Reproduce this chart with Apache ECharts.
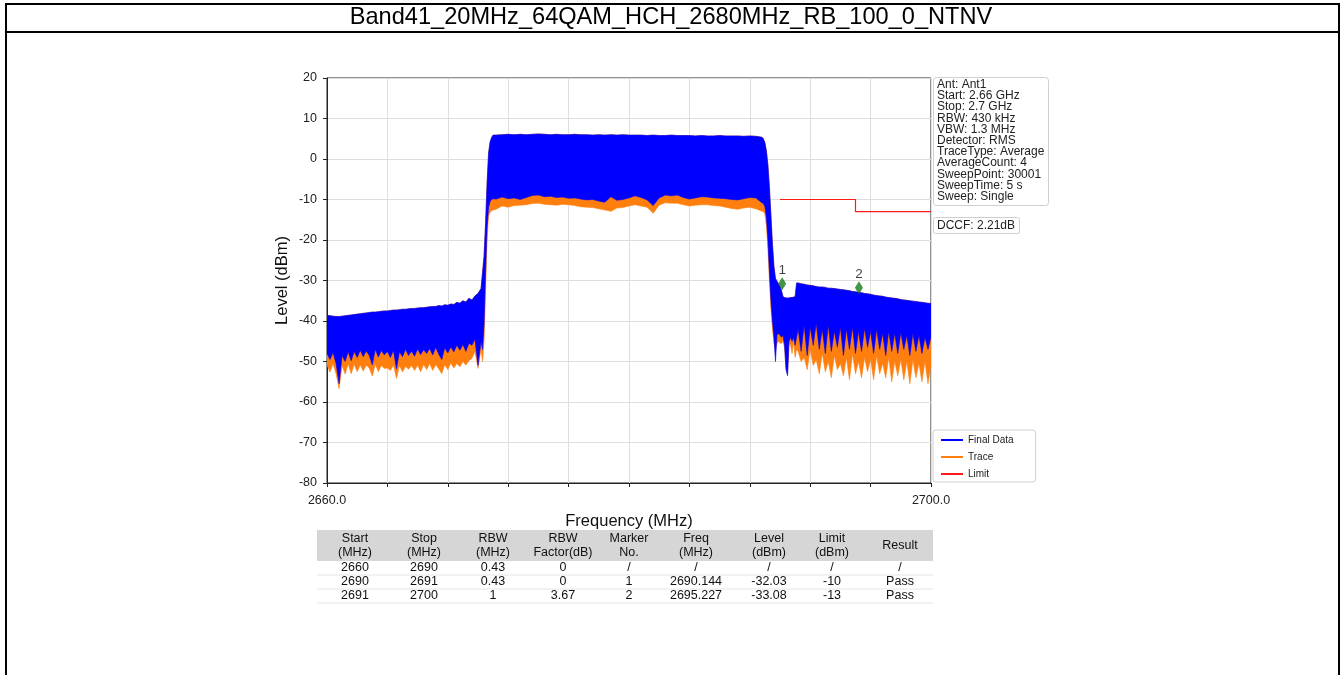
<!DOCTYPE html>
<html><head><meta charset="utf-8">
<script src="https://cdn.jsdelivr.net/npm/echarts@6/dist/echarts.min.js"></script>
<style>html,body{margin:0;padding:0;background:#fff;}#c{width:1344px;height:675px;}</style>
</head><body><div id="c"></div>
<script>
const titleText = 'Band41_20MHz_64QAM_HCH_2680MHz_RB_100_0_NTNV';

const freq = [
  2660.0,2660.2,2660.4,2660.6,2660.8,2661.0,2661.2,2661.4,2661.6,2661.8,
  2662.0,2662.2,2662.4,2662.6,2662.8,2663.0,2663.2,2663.4,2663.6,2663.8,
  2664.0,2664.2,2664.4,2664.6,2664.8,2665.0,2665.2,2665.4,2665.6,2665.8,
  2666.0,2666.2,2666.4,2666.6,2666.8,2667.0,2667.2,2667.4,2667.6,2667.8,
  2668.0,2668.2,2668.4,2668.6,2668.8,2669.0,2669.2,2669.4,2669.6,2669.8,
  2670.0,2670.2,
  2670.3,2670.4,2670.5,2670.6,2670.7,2670.8,2670.9,2671.0,
  2671.2,2671.6,2672.0,2672.4,2672.8,2673.2,2673.6,2674.0,2674.4,2674.8,
  2675.2,2675.6,2676.0,2676.4,2676.8,2677.2,2677.6,2678.0,2678.4,2678.8,
  2679.2,2679.6,2680.0,2680.4,2680.8,2681.2,2681.6,2682.0,2682.4,2682.8,
  2683.2,2683.6,2684.0,2684.4,2684.8,2685.2,2685.6,2686.0,2686.4,2686.8,
  2687.2,2687.6,2688.0,2688.4,2688.8,
  2688.9,2689.0,2689.1,2689.2,2689.3,2689.4,2689.5,2689.6,2689.7,2689.8,
  2689.9,2690.0,2690.1,2690.2,2690.3,2690.4,2690.5,2690.6,2690.7,2690.8,
  2690.9,2691.0,2691.1,
  2691.2,2691.4,2691.6,2691.8,2692.0,2692.2,2692.4,2692.6,2692.8,2693.0,
  2693.2,2693.4,2693.6,2693.8,2694.0,2694.2,2694.4,2694.6,2694.8,2695.0,
  2695.2,2695.4,2695.6,2695.8,2696.0,2696.2,2696.4,2696.6,2696.8,2697.0,
  2697.2,2697.4,2697.6,2697.8,2698.0,2698.2,2698.4,2698.6,2698.8,2699.0,
  2699.2,2699.4,2699.6,2699.8,2700.0
];

// Final Data: upper envelope (dBm)
const finalTop = [
  -38.6,-38.7,-38.8,-38.9,-38.9,-38.8,-38.7,-38.6,-38.5,-38.4,
  -38.3,-38.2,-38.1,-38.0,-37.9,-37.8,-37.8,-37.7,-37.6,-37.5,
  -37.5,-37.4,-37.3,-37.3,-37.2,-37.1,-37.1,-37.0,-36.9,-36.9,
  -36.8,-36.7,-36.7,-36.6,-36.5,-36.4,-36.4,-36.2,-36.3,-36.0,
  -36.1,-35.8,-35.9,-35.4,-35.6,-35.0,-35.3,-34.4,-34.8,-33.8,
  -33.2,-32.0,
  -28,-24,-16,-6,1.5,4.2,5.3,5.9,
  5.9,6.0,6.1,6.0,6.1,6.0,6.1,6.2,6.1,6.0,
  6.1,6.0,6.0,6.1,6.0,6.0,5.9,6.0,5.9,6.0,
  5.9,6.0,5.9,5.9,5.9,5.8,5.9,5.8,5.8,5.9,
  5.8,5.8,5.8,5.7,5.8,5.7,5.7,5.8,5.7,5.7,
  5.7,5.6,5.7,5.6,5.4,
  5.0,4.0,2.0,-1.5,-7,-14,-21,-26.5,-29.5,-30.2,
  -30.8,-31.5,-32.5,-34.0,-34.2,-34.3,-34.3,-34.3,-34.2,-34.2,
  -34.1,-34.0,-30.6,
  -30.6,-30.8,-30.9,-31.1,-31.2,-31.3,-31.5,-31.6,-31.6,-31.7,
  -31.9,-31.9,-32.0,-32.1,-32.2,-32.3,-32.4,-32.5,-32.7,-32.8,
  -32.9,-33.0,-33.2,-33.3,-33.4,-33.6,-33.7,-33.8,-33.9,-34.1,
  -34.2,-34.3,-34.4,-34.5,-34.7,-34.8,-34.9,-35.0,-35.1,-35.2,
  -35.3,-35.4,-35.5,-35.6,-35.7
];

// Final Data: lower envelope (dBm)
const finalLow = [
  -48.0,-49.5,-47.8,-50.5,-55.5,-48.5,-50.0,-47.6,-49.8,-47.5,
  -49.0,-47.2,-48.8,-47.4,-48.5,-50.8,-47.0,-48.9,-47.3,-48.4,
  -47.5,-49.0,-47.2,-51.8,-47.6,-48.8,-47.0,-48.5,-47.4,-48.7,
  -46.9,-48.3,-47.1,-48.0,-46.8,-48.4,-46.5,-48.2,-49.5,-46.6,
  -47.9,-46.4,-47.6,-46.0,-47.2,-45.8,-47.5,-45.5,-46.0,-44.5,
  -51.0,-45.0,
  -47,-41,-28,-17,-12,-10.5,-10.0,-9.8,
  -9.9,-9.4,-9.8,-9.6,-10.0,-9.5,-9.0,-8.9,-9.3,-9.2,
  -9.5,-9.4,-9.7,-9.6,-9.9,-10.1,-10.0,-10.4,-10.7,-9.3,
  -10.2,-10.0,-9.6,-9.1,-9.5,-10.1,-11.5,-9.6,-8.9,-9.1,
  -8.9,-9.5,-9.9,-9.6,-9.3,-9.4,-9.6,-9.7,-9.8,-10.0,
  -10.1,-9.8,-9.5,-9.6,-10.8,
  -11.0,-11.8,-14.5,-20,-28,-35,-40,-44,-50,-43.5,
  -43,-43.5,-44,-43.5,-46,-52,-53.5,-45,-44,-45,
  -44,-46,-44,
  -42.0,-47.5,-41.0,-48.5,-41.5,-46.0,-40.5,-47.0,-42.0,-48.0,
  -41.0,-47.5,-42.5,-46.5,-41.5,-48.5,-42.0,-47.0,-41.5,-48.0,
  -42.5,-47.5,-41.8,-46.5,-42.5,-48.0,-42.0,-47.0,-43.0,-48.5,
  -42.5,-47.5,-43.0,-48.0,-42.8,-47.0,-43.5,-48.5,-43.0,-47.5,
  -43.5,-48.0,-44.0,-47.0,-44.0
];

// Trace: lower envelope (dBm)
const traceLow = [
  -50.9,-52.6,-50.5,-53.0,-56.7,-51.0,-53.1,-50.6,-53.0,-50.7,
  -52.5,-50.8,-52.4,-50.9,-51.6,-53.6,-50.7,-52.5,-51.0,-51.7,
  -51.6,-52.2,-50.8,-54.2,-51.0,-52.6,-51.2,-51.9,-51.0,-52.2,
  -50.9,-52.5,-50.7,-52.0,-50.5,-52.2,-50.8,-51.8,-53.0,-50.8,
  -52.0,-50.4,-51.6,-50.5,-51.3,-50.0,-50.9,-49.8,-49.2,-47.5,
  -51.7,-47.0,
  -50,-45,-33,-20,-14,-13.2,-12.8,-12.6,
  -12.4,-11.6,-11.9,-11.5,-11.4,-11.3,-11.0,-10.9,-11.2,-11.3,
  -11.4,-11.2,-11.3,-11.5,-11.8,-11.9,-12.0,-12.3,-12.6,-12.9,
  -12.1,-12.0,-11.6,-11.3,-11.6,-11.9,-13.4,-11.4,-10.8,-10.9,
  -10.9,-11.3,-11.6,-11.4,-11.3,-11.3,-11.5,-11.6,-11.9,-12.2,
  -12.4,-12.1,-11.9,-12.3,-12.9,
  -13.0,-13.6,-16.5,-22,-30,-37,-42,-45.5,-47,-45.5,
  -45,-45.5,-45.5,-45,-46.5,-52,-53,-45.5,-46,-48,
  -45,-49,-47,
  -47.5,-50.0,-49.0,-52.0,-47.0,-51.0,-49.5,-53.0,-48.0,-52.5,
  -50.0,-54.0,-48.5,-52.0,-50.5,-53.5,-49.0,-54.5,-48.0,-53.0,
  -50.0,-54.0,-49.0,-52.5,-49.5,-54.5,-48.5,-53.0,-50.5,-54.0,
  -49.0,-55.0,-50.0,-53.5,-49.5,-54.5,-50.0,-55.5,-49.5,-54.0,
  -50.5,-55.0,-50.0,-55.5,-51.0
];

const limitFreq = [2690, 2695, 2695, 2700];
const limitLevel = [-10, -10, -13, -13];

const markerNo = ['1', '2'];
const markerFreq = [2690.144, 2695.227];
const markerLevel = [-30.8, -31.8];

const infoLines = ['Ant: Ant1','Start: 2.66 GHz','Stop: 2.7 GHz','RBW: 430 kHz','VBW: 1.3 MHz','Detector: RMS','TraceType: Average','AverageCount: 4','SweepPoint: 30001','SweepTime: 5 s','Sweep: Single'];
const dccfText = 'DCCF: 2.21dB';

const tableHeader = ['Start\n(MHz)','Stop\n(MHz)','RBW\n(MHz)','RBW\nFactor(dB)','Marker\nNo.','Freq\n(MHz)','Level\n(dBm)','Limit\n(dBm)','Result'];
const tableRows = [
  ['2660','2690','0.43','0','/','/','/','/','/'],
  ['2690','2691','0.43','0','1','2690.144','-32.03','-10','Pass'],
  ['2691','2700','1','3.67','2','2695.227','-33.08','-13','Pass']
];
const xAxisName = 'Frequency (MHz)';
const yAxisName = 'Level (dBm)';
const legendNames = ['Final Data','Trace','Limit'];

// ---------- layout / style ----------
const FONT = '"Liberation Sans", Arial, sans-serif';
const colX = [355, 424, 493, 563, 629, 696, 769, 832, 900];
const BLUE = '#0000ff', ORANGE = '#ff7f0e', RED = '#ff1a1a', GREEN = '#157a15';

const chart = echarts.init(document.getElementById('c'), null, {renderer: 'canvas'});

const graphics = [];
graphics.push({type:'rect', shape:{x:6, y:4, width:1333, height:720}, style:{fill:'none', stroke:'#000', lineWidth:2}, silent:true, z:50});
graphics.push({type:'line', shape:{x1:6, y1:32, x2:1339, y2:32}, style:{stroke:'#000', lineWidth:2}, silent:true, z:50});
graphics.push({type:'text', x:671, y:17, style:{text:titleText, font:'23.6px ' + FONT, align:'center', verticalAlign:'middle', fill:'#000'}, z:50});
graphics.push({type:'rect', shape:{x:933.5, y:77.5, width:115, height:128, r:3}, style:{fill:'#fff', stroke:'#cfcfcf', lineWidth:1}, z:40});
graphics.push({type:'text', x:937, y:79, style:{text:infoLines.join('\n'), font:'12px ' + FONT, lineHeight:11.2, fill:'#222', align:'left', verticalAlign:'top'}, z:41});
graphics.push({type:'rect', shape:{x:933.5, y:217.5, width:86, height:16, r:2}, style:{fill:'#fff', stroke:'#cfcfcf', lineWidth:1}, z:40});
graphics.push({type:'text', x:937, y:225.5, style:{text:dccfText, font:'12px ' + FONT, fill:'#222', align:'left', verticalAlign:'middle'}, z:41});
graphics.push({type:'rect', shape:{x:317, y:530, width:616, height:31}, style:{fill:'#d6d6d6'}, z:10});
tableHeader.forEach((h, i) => {
  graphics.push({type:'text', x:colX[i], y:545.5, style:{text:h, font:'12.5px ' + FONT, lineHeight:14, fill:'#111', align:'center', verticalAlign:'middle'}, z:11});
});
tableRows.forEach((row, r) => {
  const cy = 568 + r * 14;
  row.forEach((v, i) => {
    graphics.push({type:'text', x:colX[i], y:cy, style:{text:v, font:'12.5px ' + FONT, fill:'#111', align:'center', verticalAlign:'middle'}, z:11});
  });
  graphics.push({type:'line', shape:{x1:317, y1:cy + 7, x2:933, y2:cy + 7}, style:{stroke:'#e6e6e6', lineWidth:1}, z:9});
});

// band polygon between an upper and a lower envelope, through the axis scales
function bandSeries(name, upper, lower, color, z) {
  return {
    name: name, type: 'custom', coordinateSystem: 'cartesian2d', z: z, clip: true,
    itemStyle: {color: color},
    data: [[freq[0], upper[0]]],
    encode: {x: 0, y: 1},
    renderItem: function (params, api) {
      const topPts = freq.map((f, i) => api.coord([f, upper[i]]));
      const lowPts = freq.map((f, i) => api.coord([f, lower[i]])).reverse();
      return {type: 'polygon', shape: {points: topPts.concat(lowPts)},
        style: {fill: color, stroke: color, lineWidth: 0.6}};
    }
  };
}

chart.setOption({
  animation: false,
  backgroundColor: '#fff',
  grid: {left: 327, right: 413, top: 78, bottom: 192, show: true, borderColor: '#222', borderWidth: 1, backgroundColor: 'transparent'},
  legend: {
    data: legendNames, orient: 'vertical', left: 933, top: 430, icon: 'rect', itemWidth: 22, itemHeight: 2,
    itemGap: 7, padding: [5, 22, 3, 8], borderColor: '#d0d0d0', borderWidth: 1, borderRadius: 3, backgroundColor: '#fff',
    selectedMode: false, textStyle: {fontSize: 10, fontFamily: FONT, color: '#222'}
  },
  xAxis: {
    type: 'value', min: 2660, max: 2700, interval: 4,
    name: xAxisName, nameLocation: 'middle', nameGap: 30,
    nameTextStyle: {fontSize: 16.5, fontFamily: FONT, color: '#111'},
    axisLine: {show: true, onZero: false, lineStyle: {color: '#222'}},
    axisTick: {show: true, length: 4, lineStyle: {color: '#222'}},
    axisLabel: {fontSize: 12.5, fontFamily: FONT, color: '#222', margin: 11, showMinLabel: true, showMaxLabel: true,
      formatter: (v) => (v === 2660 || v === 2700) ? v.toFixed(1) : ''},
    splitLine: {show: true, lineStyle: {color: '#dedede', width: 1}}
  },
  yAxis: {
    type: 'value', min: -80, max: 20, interval: 10,
    name: yAxisName, nameLocation: 'middle', nameGap: 36, nameRotate: 90,
    nameTextStyle: {fontSize: 16.5, fontFamily: FONT, color: '#111'},
    axisLine: {show: true, onZero: false, lineStyle: {color: '#222'}},
    axisTick: {show: true, length: 4, lineStyle: {color: '#222'}},
    axisLabel: {fontSize: 12.5, fontFamily: FONT, color: '#222', margin: 10},
    splitLine: {show: true, lineStyle: {color: '#dedede', width: 1}}
  },
  series: [
    bandSeries('Trace', finalTop, traceLow, ORANGE, 2),
    bandSeries('Final Data', finalTop, finalLow, BLUE, 3),
    {name: 'Limit', type: 'line', data: limitFreq.map((f, i) => [f, limitLevel[i]]), symbol: 'none', color: RED,
      lineStyle: {color: RED, width: 1.2}, z: 4},
    {name: 'Markers', type: 'scatter', data: markerFreq.map((f, i) => ({value: [f, markerLevel[i]], no: markerNo[i]})),
      symbol: 'diamond', symbolSize: [8, 13], itemStyle: {color: GREEN}, z: 5,
      label: {show: true, position: 'top', distance: 0, fontSize: 13.5, fontFamily: FONT, color: '#111',
        formatter: (p) => p.data.no}}
  ],
  graphic: graphics
});
</script>
</body></html>
